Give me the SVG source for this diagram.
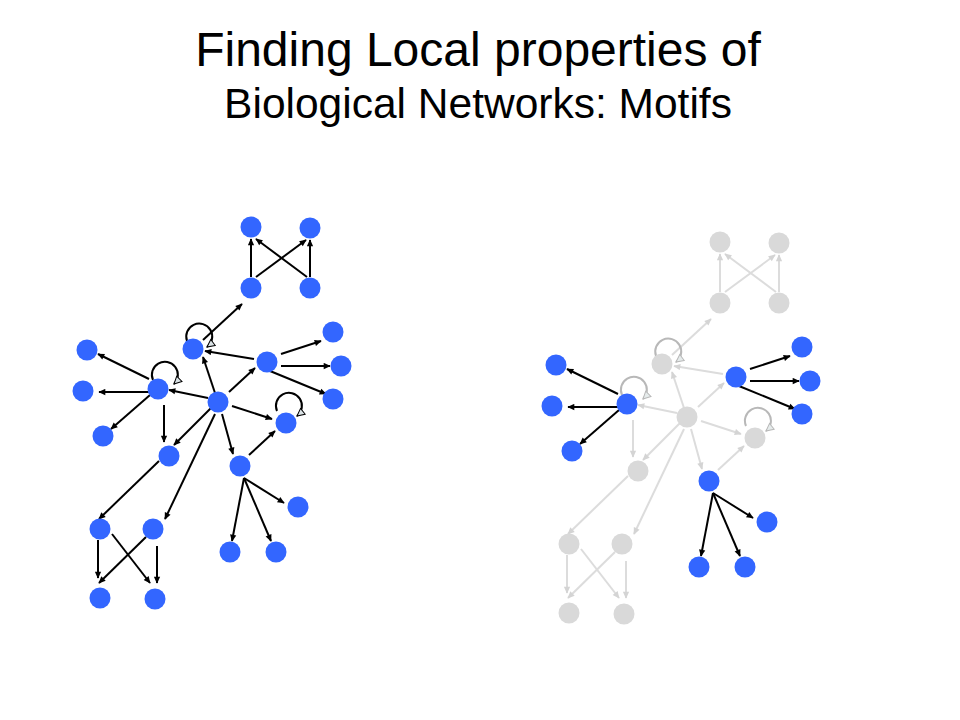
<svg xmlns="http://www.w3.org/2000/svg" width="960" height="720" viewBox="0 0 960 720">
<style>
.t{font-family:"Liberation Sans",Arial,sans-serif;fill:#000;text-anchor:middle}
.nb{fill:#3366ff}
.ng{fill:#d9d9d9}
.e{stroke:#000;stroke-width:2;fill:none;marker-end:url(#ah)}
.eg{stroke:#dcdcdc;stroke-width:2;fill:none;marker-end:url(#ahg)}
.lp{stroke:#000;stroke-width:2;fill:none;marker-end:url(#ahh)}
.lpg{stroke:#b8b8b8;stroke-width:2;fill:none;marker-end:url(#ahhg)}
</style>
<defs>
<marker id="ah" viewBox="0 0 10 10" refX="9" refY="5" markerWidth="8" markerHeight="7" markerUnits="userSpaceOnUse" orient="auto"><path d="M0,0.5 L10,5 L0,9.5 z" fill="#000"/></marker>
<marker id="ahg" viewBox="0 0 10 10" refX="9" refY="5" markerWidth="8" markerHeight="7" markerUnits="userSpaceOnUse" orient="auto"><path d="M0,0.5 L10,5 L0,9.5 z" fill="#d4d4d4"/></marker>
<marker id="ahh" viewBox="0 0 12 12" refX="10" refY="6" markerWidth="10" markerHeight="10" markerUnits="userSpaceOnUse" orient="auto"><path d="M1,1.5 L10,6 L1,10.5 z" fill="#dbe3e6" stroke="#000" stroke-width="1.2"/></marker>
<marker id="ahhg" viewBox="0 0 12 12" refX="10" refY="6" markerWidth="10" markerHeight="10" markerUnits="userSpaceOnUse" orient="auto"><path d="M1,1.5 L10,6 L1,10.5 z" fill="#e6ecec" stroke="#b8b8b8" stroke-width="1.2"/></marker>
</defs>
<rect width="960" height="720" fill="#fff"/>
<g id="title">
<text class="t" x="478" y="66" font-size="48">Finding Local properties of</text>
<text class="t" x="478" y="118" font-size="42.5">Biological Networks: Motifs</text>
</g>

<!-- LEFT NETWORK -->
<g id="left-network">
<g id="left-connectors">
<line class="e" x1="251" y1="277" x2="251" y2="239"/>
<line class="e" x1="310" y1="277" x2="310" y2="240"/>
<line class="e" x1="256" y1="277" x2="306" y2="240"/>
<line class="e" x1="307" y1="277" x2="256" y2="239"/>
<line class="e" x1="203" y1="340" x2="242" y2="304"/>
<line class="e" x1="254" y1="359" x2="205" y2="351"/>
<line class="e" x1="215" y1="393" x2="203" y2="357"/>
<line class="e" x1="229" y1="392" x2="255" y2="368"/>
<line class="e" x1="208" y1="398" x2="169" y2="390"/>
<line class="e" x1="232" y1="406" x2="272" y2="419"/>
<line class="e" x1="211" y1="408" x2="174" y2="445"/>
<line class="e" x1="222" y1="414" x2="233" y2="454"/>
<line class="e" x1="215" y1="414" x2="165" y2="519"/>
<line class="e" x1="249" y1="455" x2="275" y2="431"/>
<line class="e" x1="149" y1="379" x2="98" y2="354"/>
<line class="e" x1="149" y1="392" x2="99" y2="392"/>
<line class="e" x1="150" y1="395" x2="111" y2="429"/>
<line class="e" x1="164" y1="405" x2="164" y2="442"/>
<line class="e" x1="281" y1="354" x2="321" y2="341"/>
<line class="e" x1="281" y1="366" x2="330" y2="366"/>
<line class="e" x1="270" y1="371" x2="326" y2="394"/>
<line class="e" x1="159" y1="461" x2="99" y2="519"/>
<line class="e" x1="244" y1="478" x2="284" y2="503"/>
<line class="e" x1="244" y1="478" x2="232" y2="541"/>
<line class="e" x1="244" y1="478" x2="271" y2="541"/>
<line class="e" x1="98" y1="540" x2="98" y2="578"/>
<line class="e" x1="157" y1="546" x2="157" y2="583"/>
<line class="e" x1="112" y1="534" x2="150" y2="583"/>
<line class="e" x1="146" y1="537" x2="99" y2="583"/>
<path class="lp" d="M187,341 A13,13 0 1 1 207,347"/>
<path class="lp" d="M153,380 A13,13 0 1 1 174,384"/>
<path class="lp" d="M277,411 A13,13 0 1 1 297,416"/>
</g>
<g id="L-sqTL"><circle class="nb" cx="251" cy="227" r="10.5"/></g>
<g id="L-sqTR"><circle class="nb" cx="310" cy="228" r="10.5"/></g>
<g id="L-sqBL"><circle class="nb" cx="251" cy="288" r="10.5"/></g>
<g id="L-sqBR"><circle class="nb" cx="310" cy="288" r="10.5"/></g>
<g id="L-A"><circle class="nb" cx="193" cy="349" r="10.5"/></g>
<g id="L-B"><circle class="nb" cx="158" cy="389" r="10.5"/></g>
<g id="L-C"><circle class="nb" cx="218" cy="402" r="10.5"/></g>
<g id="L-D"><circle class="nb" cx="267" cy="362" r="10.5"/></g>
<g id="L-B1"><circle class="nb" cx="87" cy="350" r="10.5"/></g>
<g id="L-B2"><circle class="nb" cx="83" cy="391" r="10.5"/></g>
<g id="L-B3"><circle class="nb" cx="103" cy="436" r="10.5"/></g>
<g id="L-D1"><circle class="nb" cx="333" cy="332" r="10.5"/></g>
<g id="L-D2"><circle class="nb" cx="341" cy="366" r="10.5"/></g>
<g id="L-D3"><circle class="nb" cx="333" cy="399" r="10.5"/></g>
<g id="L-E"><circle class="nb" cx="286" cy="423" r="10.5"/></g>
<g id="L-F"><circle class="nb" cx="169" cy="456" r="10.5"/></g>
<g id="L-G"><circle class="nb" cx="240" cy="466" r="10.5"/></g>
<g id="L-G1"><circle class="nb" cx="298" cy="507" r="10.5"/></g>
<g id="L-G2"><circle class="nb" cx="230" cy="552" r="10.5"/></g>
<g id="L-G3"><circle class="nb" cx="276" cy="552" r="10.5"/></g>
<g id="L-bTL"><circle class="nb" cx="100" cy="529" r="10.5"/></g>
<g id="L-bTR"><circle class="nb" cx="153" cy="529" r="10.5"/></g>
<g id="L-bBL"><circle class="nb" cx="100" cy="598" r="10.5"/></g>
<g id="L-bBR"><circle class="nb" cx="155" cy="599" r="10.5"/></g>
</g>

<!-- RIGHT NETWORK (motifs highlighted) -->
<g id="right-network" transform="translate(469,15)">
<g id="right-connectors">
<line class="eg" x1="251" y1="277" x2="251" y2="239"/>
<line class="eg" x1="310" y1="277" x2="310" y2="240"/>
<line class="eg" x1="256" y1="277" x2="306" y2="240"/>
<line class="eg" x1="307" y1="277" x2="256" y2="239"/>
<line class="eg" x1="203" y1="340" x2="242" y2="304"/>
<line class="eg" x1="254" y1="359" x2="205" y2="351"/>
<line class="eg" x1="215" y1="393" x2="203" y2="357"/>
<line class="eg" x1="229" y1="392" x2="255" y2="368"/>
<line class="eg" x1="208" y1="398" x2="169" y2="390"/>
<line class="eg" x1="232" y1="406" x2="272" y2="419"/>
<line class="eg" x1="211" y1="408" x2="174" y2="445"/>
<line class="eg" x1="222" y1="414" x2="233" y2="454"/>
<line class="eg" x1="215" y1="414" x2="165" y2="519"/>
<line class="eg" x1="249" y1="455" x2="275" y2="431"/>
<line class="eg" x1="164" y1="405" x2="164" y2="442"/>
<line class="eg" x1="159" y1="461" x2="99" y2="519"/>
<line class="eg" x1="98" y1="540" x2="98" y2="578"/>
<line class="eg" x1="157" y1="546" x2="157" y2="583"/>
<line class="eg" x1="112" y1="534" x2="150" y2="583"/>
<line class="eg" x1="146" y1="537" x2="99" y2="583"/>
<path class="lpg" d="M187,341 A13,13 0 1 1 207,347"/>
<path class="lpg" d="M153,380 A13,13 0 1 1 174,384"/>
<path class="lpg" d="M277,411 A13,13 0 1 1 297,416"/>
<line class="e" x1="149" y1="379" x2="98" y2="354"/>
<line class="e" x1="149" y1="392" x2="99" y2="392"/>
<line class="e" x1="150" y1="395" x2="111" y2="429"/>
<line class="e" x1="281" y1="354" x2="321" y2="341"/>
<line class="e" x1="281" y1="366" x2="330" y2="366"/>
<line class="e" x1="270" y1="371" x2="326" y2="394"/>
<line class="e" x1="244" y1="478" x2="284" y2="503"/>
<line class="e" x1="244" y1="478" x2="232" y2="541"/>
<line class="e" x1="244" y1="478" x2="271" y2="541"/>
</g>
<g id="R-sqTL"><circle class="ng" cx="251" cy="227" r="10.5"/></g>
<g id="R-sqTR"><circle class="ng" cx="310" cy="228" r="10.5"/></g>
<g id="R-sqBL"><circle class="ng" cx="251" cy="288" r="10.5"/></g>
<g id="R-sqBR"><circle class="ng" cx="310" cy="288" r="10.5"/></g>
<g id="R-A"><circle class="ng" cx="193" cy="349" r="10.5"/></g>
<g id="R-B"><circle class="nb" cx="158" cy="389" r="10.5"/></g>
<g id="R-C"><circle class="ng" cx="218" cy="402" r="10.5"/></g>
<g id="R-D"><circle class="nb" cx="267" cy="362" r="10.5"/></g>
<g id="R-B1"><circle class="nb" cx="87" cy="350" r="10.5"/></g>
<g id="R-B2"><circle class="nb" cx="83" cy="391" r="10.5"/></g>
<g id="R-B3"><circle class="nb" cx="103" cy="436" r="10.5"/></g>
<g id="R-D1"><circle class="nb" cx="333" cy="332" r="10.5"/></g>
<g id="R-D2"><circle class="nb" cx="341" cy="366" r="10.5"/></g>
<g id="R-D3"><circle class="nb" cx="333" cy="399" r="10.5"/></g>
<g id="R-E"><circle class="ng" cx="286" cy="423" r="10.5"/></g>
<g id="R-F"><circle class="ng" cx="169" cy="456" r="10.5"/></g>
<g id="R-G"><circle class="nb" cx="240" cy="466" r="10.5"/></g>
<g id="R-G1"><circle class="nb" cx="298" cy="507" r="10.5"/></g>
<g id="R-G2"><circle class="nb" cx="230" cy="552" r="10.5"/></g>
<g id="R-G3"><circle class="nb" cx="276" cy="552" r="10.5"/></g>
<g id="R-bTL"><circle class="ng" cx="100" cy="529" r="10.5"/></g>
<g id="R-bTR"><circle class="ng" cx="153" cy="529" r="10.5"/></g>
<g id="R-bBL"><circle class="ng" cx="100" cy="598" r="10.5"/></g>
<g id="R-bBR"><circle class="ng" cx="155" cy="599" r="10.5"/></g>
</g>
</svg>
